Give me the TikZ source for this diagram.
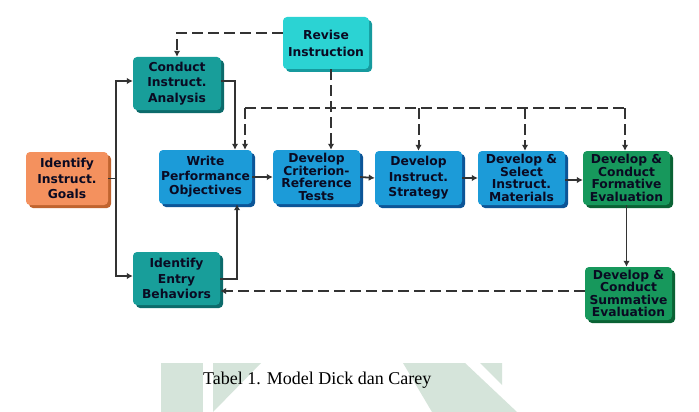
\documentclass[tikz,border=0pt]{standalone}
\usepackage{fontspec}
\usetikzlibrary{arrows.meta,shadows}
\newfontfamily\boxfont{DejaVu Sans}
\newfontfamily\capfont{Liberation Serif}

% box faces and their shadows
\definecolor{orangeF}{HTML}{F4915E}
\definecolor{orangeS}{HTML}{C0642F}
\definecolor{tealF}{HTML}{189E9A}
\definecolor{tealS}{HTML}{0C6B6B}
\definecolor{cyanF}{HTML}{2BD3D3}
\definecolor{cyanS}{HTML}{169A9E}
\definecolor{blueF}{HTML}{1C9BD8}
\definecolor{blueS}{HTML}{0C5597}
\definecolor{greenF}{HTML}{17985C}
\definecolor{greenS}{HTML}{0A6234}
\definecolor{ink}{HTML}{0A0A22}
\definecolor{wline}{HTML}{333333}
\definecolor{emblem}{HTML}{D5E4DA}

\tikzset{
  box/.style 2 args={draw=none, fill=#1, rounded corners=4pt,
    drop shadow={shadow xshift=3pt, shadow yshift=-3pt, fill=#2, opacity=1},
    text=ink, align=center, inner sep=1pt,
    font=\boxfont\bfseries\fontsize{12.3}{15.5}\selectfont},
  tight/.style={font=\boxfont\bfseries\fontsize{12.3}{12.6}\selectfont},
  loose/.style={font=\boxfont\bfseries\fontsize{12.3}{17}\selectfont},
  flow/.style={draw=wline, line width=1.8pt, -{Latex[length=6pt,width=6.5pt]}},
  thinflow/.style={draw=wline, line width=1.2pt, -{Latex[length=6pt,width=6.5pt]}},
  link/.style={draw=wline, line width=1.8pt},
  fb/.style={draw=wline, line width=2pt, dash pattern=on 11pt off 5pt},
  fbarrow/.style={fb, -{Latex[length=6pt,width=6.5pt]}},
}

\begin{document}
\begin{tikzpicture}[x=1pt,y=-1pt]
\useasboundingbox (0,0) rectangle (699,412);
\fill[white] (0,0) rectangle (699,412);

% faint emblem behind the caption
\fill[emblem] (161,363) rectangle (203,412);
\fill[emblem] (213,363) -- (261,363) -- (213,412) -- cycle;
\fill[emblem] (403,363) -- (465,363) -- (517,412) -- (432,412) -- cycle;
\fill[emblem] (480,363) -- (502,363) -- (502,385) -- cycle;

% process boxes
\node[box={cyanF}{cyanS}, loose, minimum width=86pt, minimum height=52pt] (rev) at (326,43) {Revise\\Instruction};
\node[box={tealF}{tealS}, minimum width=88pt, minimum height=53pt] (cia) at (177,83.5) {Conduct\\Instruct.\\Analysis};
\node[box={orangeF}{orangeS}, minimum width=82pt, minimum height=53pt] (goal) at (67,178.5) {Identify\\Instruct.\\Goals};
\node[box={blueF}{blueS}, font=\boxfont\bfseries\fontsize{12.3}{14.5}\selectfont, minimum width=93pt, minimum height=54pt] (wpo) at (205.5,177) {Write\\Performance\\Objectives};
\node[box={blueF}{blueS}, tight, minimum width=87pt, minimum height=54pt] (crt) at (316.5,177) {Develop\\Criterion-\\Reference\\Tests};
\node[box={blueF}{blueS}, minimum width=87pt, minimum height=54pt] (str) at (418.5,178) {Develop\\Instruct.\\Strategy};
\node[box={blueF}{blueS}, tight, minimum width=87pt, minimum height=54pt] (mat) at (521.5,178) {Develop \&\\Select\\Instruct.\\Materials};
\node[box={greenF}{greenS}, tight, minimum width=87pt, minimum height=54pt] (frm) at (626.5,178) {Develop \&\\Conduct\\Formative\\Evaluation};
\node[box={tealF}{tealS}, minimum width=87pt, minimum height=53pt] (ent) at (176.5,278.5) {Identify\\Entry\\Behaviors};
\node[box={greenF}{greenS}, tight, minimum width=87pt, minimum height=53pt] (sum) at (628.5,293.5) {Develop \&\\Conduct\\Summative\\Evaluation};

% branching from the goals
\coordinate (trunk) at (116,178.5);
\draw[link] (goal.east) -- (trunk);
\draw[flow] (trunk) |- ([yshift=2.5pt]cia.west);
\draw[flow] (trunk) |- ([yshift=2.5pt]ent.west);
\draw[flow] ([yshift=2.5pt]cia.east) -| ([xshift=29.5pt]wpo.north);
\draw[flow] ([yshift=-0.5pt]ent.east) -| ([xshift=31.5pt]wpo.south);

% main sequence
\draw[flow] (wpo.east) -- (crt.west);
\draw[flow] (crt.east) -- (str.west);
\draw[flow] (str.east) -- (mat.west);
\draw[flow] ([yshift=-2pt]mat.east) -- ([yshift=-2pt]frm.west);
\draw[thinflow] (frm.south) -- (frm.south |- sum.north);

% revision feedback
\coordinate (busL) at (245,108);
\coordinate (busR) at (625,108);
\draw[fbarrow] ([yshift=10pt]rev.west) -| (cia.north);
\draw[fbarrow] ([xshift=5pt]rev.south) -- ([xshift=5pt]rev.south |- crt.north);
\draw[fb] (busL) -- (busR);
\draw[fbarrow] (busL) -- (busL |- wpo.north);
\draw[fbarrow] (str.north |- busL) -- (str.north);
\draw[fbarrow] ([xshift=3.5pt]mat.north |- busL) -- ([xshift=3.5pt]mat.north);
\draw[fbarrow] (busR) -- (busR |- frm.north);
\draw[fbarrow] ([yshift=2.5pt]sum.west) -- ([yshift=2.5pt]sum.west -| ent.east);

% caption
\node[anchor=base west, inner sep=0pt, font=\capfont\fontsize{18}{20}\selectfont] (cap) at (203,384) {Tabel 1. Model Dick dan Carey};
\end{tikzpicture}
\end{document}
